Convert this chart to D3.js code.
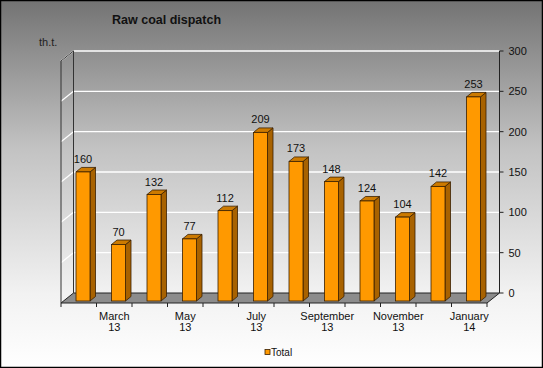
<!DOCTYPE html>
<html><head><meta charset="utf-8">
<script src="https://cdn.jsdelivr.net/npm/d3@7"></script>
<style>html,body{margin:0;padding:0;background:#fff}svg{display:block}text{font-family:"Liberation Sans",Arial,sans-serif}</style>
</head><body>
<script>
const title = "Raw coal dispatch";
const unitLabel = "th.t.";
const seriesName = "Total";
const months = ["Feb 13","March 13","Apr 13","May 13","Jun 13","July 13","Aug 13","September 13","Oct 13","November 13","Dec 13","January 14"];
const shownLabels = [null,["March","13"],null,["May","13"],null,["July","13"],null,["September","13"],null,["November","13"],null,["January","14"]];
const values = [160,70,132,77,112,209,173,148,124,104,142,253];
const yTicks = [0,50,100,150,200,250,300];

const W=543,H=368;
const svg=d3.select("body").append("svg").attr("width",W).attr("height",H);
const defs=svg.append("defs");
const g=defs.append("linearGradient").attr("id","bg").attr("x1",0).attr("y1",0).attr("x2",0).attr("y2",1);
g.append("stop").attr("offset","0%").attr("stop-color","#737373");
g.append("stop").attr("offset","40%").attr("stop-color","#c2c2c2");
g.append("stop").attr("offset","80%").attr("stop-color","#f2f2f2");
g.append("stop").attr("offset","100%").attr("stop-color","#ffffff");
svg.append("rect").attr("x",0).attr("y",0).attr("width",W).attr("height",H).attr("fill","url(#bg)");

const DX=12.5, DY=-10;
const x=d3.scaleBand().domain(d3.range(values.length)).range([61,487]).padding(0);
const y=d3.scaleLinear().domain([0,300]).range([303,61]);
const yb=v=>y(v)+DY;
const xL=61, xR=487;

// floor
svg.append("path").attr("d",`M${xL},${y(0)}L${xR},${y(0)}L${xR+DX},${yb(0)}L${xL+DX},${yb(0)}Z`)
  .attr("fill","#8c8c8c").attr("stroke","#222").attr("stroke-width",1);

// gridlines back wall + left wall
yTicks.filter(v=>v>0).forEach(v=>{
  svg.append("line").attr("x1",xL+DX).attr("x2",xR+DX).attr("y1",yb(v)).attr("y2",yb(v))
    .attr("stroke","#ffffff").attr("stroke-width",1.3);
  svg.append("line").attr("x1",xL).attr("x2",xL+DX).attr("y1",y(v)).attr("y2",yb(v))
    .attr("stroke","#ffffff").attr("stroke-width",1.3);
});
// left wall edges
svg.append("path").attr("d",`M${xL},${y(0)}L${xL},${y(300)}L${xL+DX},${yb(300)}L${xL+DX},${yb(0)}`)
  .attr("fill","none").attr("stroke","#333").attr("stroke-width",1);

// right axis
svg.append("line").attr("x1",xR+DX).attr("x2",xR+DX).attr("y1",yb(0)).attr("y2",yb(300)).attr("stroke","#222");
const ra=svg.append("g");
yTicks.forEach(v=>{
  ra.append("line").attr("x1",xR+DX).attr("x2",xR+DX+4).attr("y1",yb(v)).attr("y2",yb(v)).attr("stroke","#222");
  ra.append("text").attr("x",xR+DX+9).attr("y",yb(v)+4).attr("font-size",11).attr("fill","#111").text(v);
});

// x ticks
d3.range(values.length+1).forEach(i=>{
  const xx=61+i*x.step();
  svg.append("line").attr("x1",xx).attr("x2",xx).attr("y1",y(0)).attr("y2",y(0)+4).attr("stroke","#222");
});
shownLabels.forEach((l,i)=>{
  if(!l) return;
  const cx=x(i)+x.step()/2;
  const t=svg.append("text").attr("text-anchor","middle").attr("font-size",11).attr("fill","#111");
  t.append("tspan").attr("x",cx).attr("y",320).text(l[0]);
  t.append("tspan").attr("x",cx).attr("y",331).text(l[1]);
});

// bars
const bw=14, sdx=5.5, sdy=-4.5;
const bars=svg.append("g");
values.forEach((v,i)=>{
  const bx=x(i)+15, base=y(0)-2, top=y(v)-2;
  bars.append("path").attr("d",`M${bx+bw},${base}L${bx+bw+sdx},${base+sdy}L${bx+bw+sdx},${top+sdy}L${bx+bw},${top}Z`)
    .attr("fill","#a86200").attr("stroke","#3a2000").attr("stroke-width",0.8);
  bars.append("path").attr("d",`M${bx},${top}L${bx+sdx},${top+sdy}L${bx+bw+sdx},${top+sdy}L${bx+bw},${top}Z`)
    .attr("fill","#cc7a00").attr("stroke","#3a2000").attr("stroke-width",0.8);
  bars.append("rect").attr("x",bx).attr("y",top).attr("width",bw).attr("height",base-top)
    .attr("fill","#ff9900").attr("stroke","#3a2000").attr("stroke-width",0.8);
  bars.append("text").attr("x",bx+bw/2).attr("y",top-9).attr("text-anchor","middle")
    .attr("font-size",11).attr("fill","#111").text(v);
});

// title + unit
svg.append("text").attr("x",112).attr("y",24).attr("font-size",12.5).attr("font-weight","bold").attr("fill","#111").text(title);
svg.append("text").attr("x",39).attr("y",46).attr("font-size",11).attr("fill","#222").text(unitLabel);

// legend
svg.append("rect").attr("x",265).attr("y",349.5).attr("width",5).attr("height",5).attr("fill","#ff9900").attr("stroke","#3a2000").attr("stroke-width",0.8);
svg.append("text").attr("x",271).attr("y",356).attr("font-size",10).attr("fill","#111").text(seriesName);

// border
svg.append("rect").attr("x",0.5).attr("y",0.5).attr("width",W-1).attr("height",H-1).attr("fill","none").attr("stroke","#000").attr("stroke-width",1.5);
</script>
</body></html>
